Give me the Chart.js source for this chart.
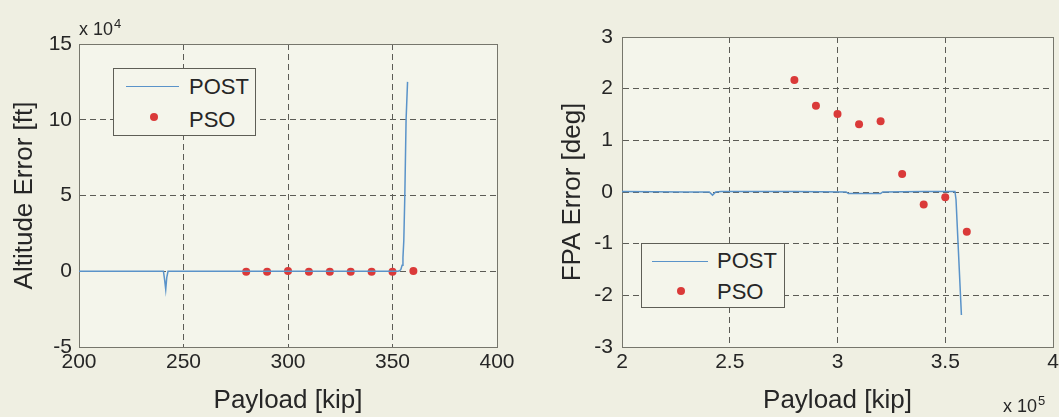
<!DOCTYPE html>
<html>
<head>
<meta charset="utf-8">
<title>Altitude and FPA error vs payload</title>
<script src="https://cdn.jsdelivr.net/npm/chart.js"></script>
<style>
    body { margin: 0; width: 1059px; height: 417px; overflow: hidden; position: relative;
           background: #efefe2; color: #262626; font-family: 'Liberation Sans', Arial, sans-serif; }
    canvas { position: absolute; top: 0; }
    .mult { position: absolute; font-size: 18px; line-height: 18px; white-space: nowrap; }
    .mult sup { font-size: 13px; vertical-align: 0; position: relative; top: -7px; margin-left: 1px; }
    .legend { position: absolute; border: 1px solid #5e5e56; background: #f4f5eb; box-sizing: border-box; }
    .legend .line { position: absolute; height: 0; border-top: 1.5px solid #5a93c9; }
    .legend .dot { position: absolute; width: 8px; height: 8px; border-radius: 50%; background: #da3a39; }
    .legend .txt { position: absolute; font-size: 22px; line-height: 22px; }
</style>
</head>
<body>

<canvas id="altChart" width="530" height="417" style="left:0"></canvas>
<canvas id="fpaChart" width="529" height="417" style="left:530px"></canvas>

<div class="mult" style="left:79px; top:20px">x 10<sup>4</sup></div>
<div class="mult" style="left:1003px; top:397px">x 10<sup>5</sup></div>

<div class="legend" style="left:113px; top:68px; width:143px; height:68px">
    <div class="line" style="left:12px; top:17px; width:53px"></div>
    <div class="txt" style="left:75px; top:7px">POST</div>
    <div class="dot" style="left:36px; top:44px"></div>
    <div class="txt" style="left:75px; top:40px">PSO</div>
</div>

<div class="legend" style="left:641px; top:243px; width:144px; height:65px">
    <div class="line" style="left:10px; top:17px; width:56px"></div>
    <div class="txt" style="left:75px; top:6px">POST</div>
    <div class="dot" style="left:35px; top:43px"></div>
    <div class="txt" style="left:75px; top:37px">PSO</div>
</div>

<script>
// PSO runs, payload in kip (left) and lb (right)
const psoPayloadKip = [280, 290, 300, 310, 320, 330, 340, 350, 360];
const psoAltErr = [-300, -300, 100, -300, -300, -300, -300, -300, 100];
const psoPayloadLb = [280000, 290000, 300000, 310000, 320000, 330000, 340000, 350000, 360000];
const psoFpaErr = [2.17, 1.67, 1.51, 1.31, 1.37, 0.35, -0.24, -0.1, -0.77];

// POST sweep
const postAltX = [200, 240.4, 241.0, 241.5, 242.0, 242.6, 300, 352.6, 353.4, 354.0, 354.6, 355.0, 355.4, 355.9, 356.5, 357.2];
const postAltY = [0, 0, -6000, -12000, -4000, 0, 0, 0, 300, 1200, 4000, 9000, 20000, 50000, 100000, 125000];
const postFpaX = [200000, 230000, 240500, 242000, 243500, 246000, 280000, 304000, 305000, 320000, 321000, 340000, 354500, 355000, 357500];
const postFpaY = [0.01, 0, 0, -0.06, 0, 0.01, 0.01, 0, -0.03, -0.03, 0, 0.01, 0.01, -0.15, -2.38];

const altTicks = { min: -50000, max: 150000, step: 50000 };
const fpaTicks = { min: -3, max: 3, step: 1 };

const FONT = "'Liberation Sans', Arial, sans-serif";
const INK = '#262626';
const GRID = '#5c5c56';
const FRAME = '#76766c';
const LINE = '#5a93c9';
const DOT = '#da3a39';
const PLOT_BG = '#f4f5eb';

// light fill behind the axes box
const plotBackground = {
    id: 'plotBackground',
    beforeDraw: function (chart) {
        let a = chart.chartArea;
        chart.ctx.save();
        chart.ctx.fillStyle = PLOT_BG;
        chart.ctx.fillRect(a.left, a.top, a.right - a.left, a.bottom - a.top);
        chart.ctx.restore();
    }
};

function pairs(xs, ys) {
    return xs.map(function (x, i) { return { x: x, y: ys[i] }; });
}

function fixSize(size, horizontal) {
    return function (axis) {
        if (horizontal) axis.height = size; else axis.width = size;
        axis.paddingLeft = 0;
        axis.paddingRight = 0;
        axis.paddingTop = 0;
        axis.paddingBottom = 0;
    };
}

function frameAxis(position, min, max) {
    return {
        type: 'linear', position: position, min: min, max: max,
        ticks: { display: false },
        grid: { display: false, drawTicks: false },
        border: { display: true, color: FRAME, width: 1 },
        afterFit: fixSize(0, position === 'top')
    };
}

function makeChart(id, cfg) {
    return new Chart(document.getElementById(id), {
        type: 'scatter',
        data: {
            datasets: [
                { label: 'POST', data: pairs(cfg.postX, cfg.postY), showLine: true, borderColor: LINE,
                  borderWidth: 1.5, pointRadius: 0, tension: 0 },
                { label: 'PSO', data: pairs(cfg.psoX, cfg.psoY), showLine: false, pointRadius: 4,
                  backgroundColor: DOT, borderWidth: 0 }
            ]
        },
        options: {
            responsive: false,
            animation: false,
            layout: { padding: cfg.padding },
            plugins: { legend: { display: false }, tooltip: { enabled: false } },
            scales: {
                x: {
                    type: 'linear', position: 'bottom', min: cfg.xMin, max: cfg.xMax,
                    afterBuildTicks: function (axis) {
                        axis.ticks = cfg.xTicks.map(function (v) { return { value: v }; });
                    },
                    ticks: { autoSkip: false, maxRotation: 0, padding: 3, color: INK,
                             font: { family: FONT, size: 21 }, callback: cfg.xFmt },
                    grid: { color: GRID, lineWidth: 1, drawTicks: false },
                    border: { display: true, color: FRAME, dash: [6, 4] },
                    title: { display: true, text: 'Payload [kip]', color: INK,
                             font: { family: FONT, size: 26 }, padding: { top: 0, bottom: 1 } },
                    afterFit: fixSize(70, true)
                },
                y: {
                    type: 'linear', position: 'left', min: cfg.y.min, max: cfg.y.max,
                    ticks: { stepSize: cfg.y.step, padding: cfg.yPad, color: INK,
                             font: { family: FONT, size: 21 }, callback: cfg.yFmt },
                    grid: { color: GRID, lineWidth: 1, drawTicks: false },
                    border: { display: true, color: FRAME, dash: [6, 4] },
                    title: { display: true, text: cfg.yTitle, color: INK,
                             font: { family: FONT, size: 26 }, padding: { top: cfg.titlePad, bottom: 0 } },
                    afterFit: fixSize(cfg.yWidth, false)
                },
                x2: frameAxis('top', cfg.xMin, cfg.xMax),
                y2: frameAxis('right', cfg.y.min, cfg.y.max)
            }
        },
        plugins: [plotBackground]
    });
}

makeChart('altChart', {
    postX: postAltX, postY: postAltY, psoX: psoPayloadKip, psoY: psoAltErr,
    xMin: 200, xMax: 400, xTicks: [200, 250, 300, 350, 400],
    xFmt: function (v) { return v; },
    y: altTicks, yFmt: function (v) { return v / 10000; },
    yTitle: 'Altitude Error [ft]', yWidth: 79, yPad: 7, titlePad: 9,
    padding: { left: 0, top: 44, right: 33, bottom: 0 }
});

makeChart('fpaChart', {
    postX: postFpaX, postY: postFpaY, psoX: psoPayloadLb, psoY: psoFpaErr,
    xMin: 200000, xMax: 400000, xTicks: [200000, 250000, 300000, 350000, 400000],
    xFmt: function (v) { return v / 100000; },
    y: fpaTicks, yFmt: function (v) { return v; },
    yTitle: 'FPA Error [deg]', yWidth: 92, yPad: 9, titlePad: 27,
    padding: { left: 0, top: 37, right: 6, bottom: 0 }
});
</script>
</body>
</html>
